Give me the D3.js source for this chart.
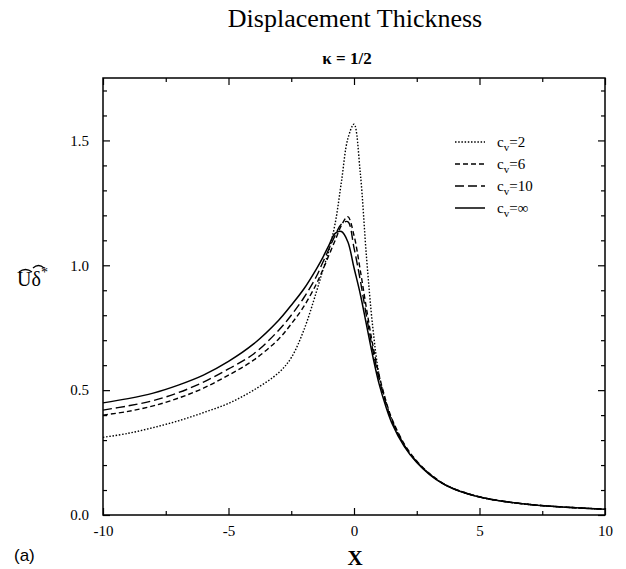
<!DOCTYPE html>
<html>
<head>
<meta charset="utf-8">
<script src="https://cdn.jsdelivr.net/npm/d3@7"></script>
<style>
  html, body { margin: 0; padding: 0; background: #fff; }
  svg { display: block; }
  text { font-family: "Liberation Serif", "Times New Roman", serif; fill: #000; }
</style>
</head>
<body>
<svg id="chart" width="626" height="569"></svg>
<script>
// ---------- data ----------
const xGrid = [-10,-9,-8,-7,-6,-5,-4,-3,-2.5,-2,-1.5,-1.25,-1,-0.75,-0.5,-0.25,0,0.25,0.5,0.75,1,1.25,1.5,2,2.5,3,3.5,4,5,6,7,8,9,10];
const cv2   = [0.311,0.327,0.350,0.377,0.410,0.447,0.500,0.570,0.630,0.740,0.893,0.978,1.060,1.168,1.335,1.505,1.565,1.370,1.030,0.750,0.560,0.460,0.385,0.280,0.213,0.165,0.129,0.104,0.072,0.054,0.042,0.034,0.028,0.023];
const cv6   = [0.400,0.415,0.437,0.468,0.508,0.560,0.620,0.705,0.765,0.835,0.925,0.980,1.040,1.100,1.160,1.195,1.120,0.980,0.825,0.680,0.560,0.465,0.388,0.285,0.216,0.167,0.130,0.105,0.073,0.054,0.042,0.034,0.028,0.023];
const cv10  = [0.420,0.437,0.458,0.490,0.532,0.585,0.645,0.740,0.800,0.870,0.955,1.010,1.065,1.120,1.165,1.175,1.070,0.940,0.795,0.660,0.545,0.455,0.380,0.280,0.213,0.165,0.129,0.104,0.072,0.054,0.042,0.034,0.028,0.023];
const cvInf = [0.449,0.466,0.488,0.520,0.560,0.615,0.685,0.780,0.840,0.905,0.985,1.030,1.080,1.128,1.135,1.095,0.990,0.885,0.760,0.635,0.525,0.440,0.370,0.275,0.210,0.163,0.128,0.103,0.072,0.054,0.042,0.034,0.028,0.023];

const seriesNames = ["2","6","10","\u221E"];
const xMajorTicks = [-10,-5,0,5,10];
const xTickLabels = ["-10","-5","0","5","10"];
const xMinorTicks = [-7.5,-2.5,2.5,7.5];
const yMajorTicks = [0,0.5,1.0,1.5];
const yTickLabels = ["0.0","0.5","1.0","1.5"];
const yMinorTicks = [0.1,0.2,0.3,0.4,0.6,0.7,0.8,0.9,1.1,1.2,1.3,1.4,1.6,1.7];

// ---------- layout ----------
const svg = d3.select("#chart");
const L = 103, R = 605, T = 78, B = 515;
const x = d3.scaleLinear().domain([-10,10]).range([L,R]);
const y = d3.scaleLinear().domain([0,1.75]).range([B,T]);

const styles = [
  {dash:"1.5,1.7", w:1.4},
  {dash:"5,3", w:1.4},
  {dash:"9,4", w:1.4},
  {dash:null, w:1.5}
];
const seriesVals = [cv2, cv6, cv10, cvInf];

// frame
svg.append("rect").attr("x",L).attr("y",T).attr("width",R-L).attr("height",B-T)
  .attr("fill","none").attr("stroke","#000").attr("stroke-width",1.5);

function styleAxis(g){
  g.select(".domain").remove();
  g.selectAll(".tick line").attr("stroke","#000").attr("stroke-width",1.2);
  g.selectAll("text").style("font-family","'Liberation Serif', serif").style("font-size","15px").attr("fill","#000");
}

// x axes
svg.append("g").attr("transform",`translate(0,${B})`)
  .call(d3.axisBottom(x).tickValues(xMajorTicks).tickSize(-7).tickPadding(10)
    .tickFormat((d,i)=>xTickLabels[i])).call(styleAxis);
svg.append("g").attr("transform",`translate(0,${B})`)
  .call(d3.axisBottom(x).tickValues(xMinorTicks).tickSize(-4).tickFormat("")).call(styleAxis);
svg.append("g").attr("transform",`translate(0,${T})`)
  .call(d3.axisTop(x).tickValues(xMajorTicks).tickSize(-7).tickFormat("")).call(styleAxis);
svg.append("g").attr("transform",`translate(0,${T})`)
  .call(d3.axisTop(x).tickValues(xMinorTicks).tickSize(-4).tickFormat("")).call(styleAxis);

// y axes
svg.append("g").attr("transform",`translate(${L},0)`)
  .call(d3.axisLeft(y).tickValues(yMajorTicks).tickSize(-7).tickPadding(14)
    .tickFormat((d,i)=>yTickLabels[i])).call(styleAxis);
svg.append("g").attr("transform",`translate(${L},0)`)
  .call(d3.axisLeft(y).tickValues(yMinorTicks).tickSize(-4).tickFormat("")).call(styleAxis);
svg.append("g").attr("transform",`translate(${R},0)`)
  .call(d3.axisRight(y).tickValues(yMajorTicks).tickSize(-7).tickFormat("")).call(styleAxis);
svg.append("g").attr("transform",`translate(${R},0)`)
  .call(d3.axisRight(y).tickValues(yMinorTicks).tickSize(-4).tickFormat("")).call(styleAxis);

// curves
const line = d3.line().x(d=>x(d[0])).y(d=>y(d[1])).curve(d3.curveCatmullRom.alpha(0.5));
seriesVals.forEach((vals,i)=>{
  const pts = xGrid.map((xv,j)=>[xv, vals[j]]);
  svg.append("path").datum(pts).attr("d",line)
    .attr("fill","none").attr("stroke","#000")
    .attr("stroke-width",styles[i].w)
    .attr("stroke-dasharray",styles[i].dash);
});

// legend
const legY = [142,164,186,208];
seriesNames.forEach((n,i)=>{
  svg.append("line").attr("x1",455).attr("x2",485).attr("y1",legY[i]).attr("y2",legY[i])
    .attr("stroke","#000").attr("stroke-width",styles[i].w).attr("stroke-dasharray",styles[i].dash);
  const t = svg.append("text").attr("x",497).attr("y",legY[i]+5).style("font-size","15px");
  t.append("tspan").text("c");
  t.append("tspan").attr("dy",4).style("font-size","11px").text("v");
  t.append("tspan").attr("dy",-4).text("="+n);
});

// titles
svg.append("text").attr("x",355).attr("y",27).attr("text-anchor","middle")
  .style("font-size","26px").text("Displacement Thickness");
svg.append("text").attr("x",347).attr("y",64).attr("text-anchor","middle")
  .style("font-size","17px").style("font-weight","bold").text("\u03BA = 1/2");

// axis titles
svg.append("text").attr("x",355).attr("y",565).attr("text-anchor","middle")
  .style("font-size","21px").style("font-weight","bold").text("X");
svg.append("text").attr("x",14).attr("y",561)
  .style("font-family","'Liberation Sans', Arial, sans-serif").style("font-size","17px").text("(a)");

// y-axis label: U δ with over-arcs and * superscript
const yl = svg.append("text").attr("x",17).attr("y",286).style("font-size","20px");
yl.append("tspan").text("U");
yl.append("tspan").text("\u03B4");
yl.append("tspan").attr("dy",-9).style("font-size","14px").text("*");
svg.append("path").attr("d","M19,272 Q25.5,267 32,272").attr("fill","none").attr("stroke","#000").attr("stroke-width",1.3);
svg.append("path").attr("d","M33,268 Q38.5,263 44,268").attr("fill","none").attr("stroke","#000").attr("stroke-width",1.3);
</script>
</body>
</html>
